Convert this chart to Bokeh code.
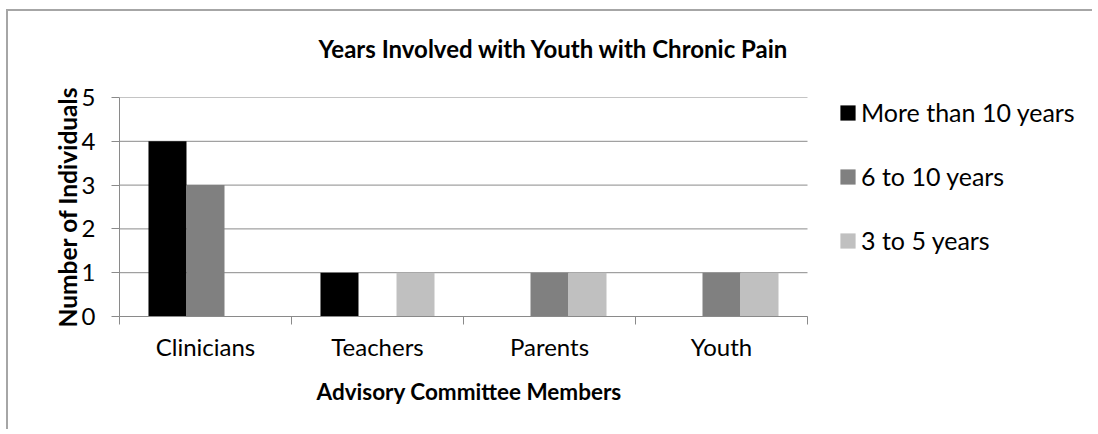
from bokeh.plotting import figure
from bokeh.models import (Range1d, LinearAxis, Legend, LegendItem, ColumnDataSource, FixedTicker,
                          Title)
from bokeh.transform import dodge
from bokeh.embed import file_html
from bokeh.resources import INLINE

# ---- data ----
categories = ["Clinicians", "Teachers", "Parents", "Youth"]
series_names = ["More than 10 years", "6 to 10 years", "3 to 5 years"]
more_than_10 = [4, 1, 0, 0]
six_to_10 = [3, 0, 1, 1]
three_to_5 = [0, 1, 1, 1]
y_ticks = [0, 1, 2, 3, 4, 5]

title_text = "Years Involved with Youth with Chronic Pain"
x_title = "Advisory Committee Members"
y_title = "Number of Individuals"

FONT = "Lato"
GRID = "#8a8a8a"
colors = ["#000000", "#808080", "#c0c0c0"]

# each category occupies 2 x-units: centres at odd numbers, boundaries at even numbers
n = len(categories)
centres = [2 * i + 1 for i in range(n)]
boundaries = [2 * i for i in range(n + 1)]

source = ColumnDataSource(dict(xc=centres, cat=categories,
                               s1=more_than_10, s2=six_to_10, s3=three_to_5))

# frame extends to the right so that the legend (drawn inside the frame) is not clipped
FRAME_W = 971
x_end = 2 * n * FRAME_W / 688

p = figure(x_range=Range1d(0, x_end), y_range=Range1d(0, 5),
           frame_width=FRAME_W, frame_height=219, output_backend="svg", toolbar_location=None,
           x_axis_location=None, y_axis_location="left",
           min_border_left=111, min_border_right=2, min_border_top=86, min_border_bottom=113,
           margin=(9, 0, 0, 6), title=title_text)
p.styles = {"border-top": "2px solid #a6a6a6", "border-left": "2px solid #a6a6a6"}
p.outline_line_color = None
p.background_fill_color = "white"
p.border_fill_color = "white"

p.title.align = "left"
p.title.offset = 199
p.title.text_font = FONT
p.title.text_font_size = "24px"
p.title.text_font_style = "bold"
p.title.text_color = "#000000"
p.title.standoff = 0

# horizontal gridlines limited to the category area
p.xgrid.visible = False
p.ygrid.visible = False
p.segment(x0=0, x1=boundaries[-1], y0=y_ticks, y1=y_ticks, line_color=GRID, line_width=1)

W = 0.442
renderers = []
for key, off, col in zip(["s1", "s2", "s3"], [-W, 0, W], colors):
    r = p.vbar(x=dodge("xc", off), top=key, width=W, source=source,
               fill_color=col, line_color=None)
    renderers.append(r)

# y axis
yax = p.yaxis[0]
yax.ticker = FixedTicker(ticks=y_ticks)
yax.major_tick_out = 8
yax.major_tick_in = 0
yax.minor_tick_out = 0
yax.minor_tick_in = 0
yax.axis_line_color = GRID
yax.major_tick_line_color = GRID
yax.major_label_standoff = 16
yax.major_label_text_font = FONT
yax.major_label_text_font_size = "24px"
yax.major_label_text_color = "#000000"
yax.axis_label = y_title
yax.axis_label_text_font = FONT
yax.axis_label_text_font_size = "24.5px"
yax.axis_label_text_font_style = "bold"
yax.axis_label_text_color = "#000000"
yax.axis_label_standoff = -3

# x axis: tick marks at category boundaries (labels left empty)
tick_axis = LinearAxis(ticker=FixedTicker(ticks=boundaries), bounds=(0, boundaries[-1]),
                       major_tick_out=8, major_tick_in=0, minor_tick_out=0, minor_tick_in=0,
                       major_label_overrides={b: "" for b in boundaries},
                       major_label_text_font_size="1px", major_label_standoff=0,
                       axis_line_color=GRID, major_tick_line_color=GRID)
p.add_layout(tick_axis, "below")

# x axis: category names at category centres
label_axis = LinearAxis(ticker=FixedTicker(ticks=centres), bounds=(0, boundaries[-1]),
                        major_label_overrides=dict(zip(centres, categories)),
                        major_tick_out=0, major_tick_in=0, minor_tick_out=0, minor_tick_in=0,
                        axis_line_color=None, major_tick_line_color=None,
                        major_label_standoff=7,
                        major_label_text_font=FONT, major_label_text_font_size="24px",
                        major_label_text_color="#000000")
p.add_layout(label_axis, "below")

# x-axis title, centred under the category area
p.add_layout(Title(text=x_title, align="left", offset=197, standoff=25,
                   text_font=FONT, text_font_size="22.5px", text_font_style="bold",
                   text_color="#000000"), "below")

# invisible spacer between frame and title
top_spacer = LinearAxis(ticker=FixedTicker(ticks=[0]), major_label_overrides={0: ""},
                        major_tick_out=35, major_tick_in=0, minor_tick_out=0, minor_tick_in=0,
                        major_label_text_font_size="1px", major_label_standoff=0,
                        axis_line_color=None, major_tick_line_color=None)
p.add_layout(top_spacer, "above")

legend = Legend(items=[LegendItem(label=nm, renderers=[r]) for nm, r in zip(series_names, renderers)],
                location=(719, 61), glyph_width=19, glyph_height=19, label_standoff=4,
                label_height=30, spacing=34, padding=0, margin=0, border_line_color=None,
                background_fill_alpha=0, label_text_font=FONT, label_text_font_size="25px",
                label_text_color="#000000")
p.add_layout(legend)

open("out.html", "w").write(file_html(p, INLINE))
